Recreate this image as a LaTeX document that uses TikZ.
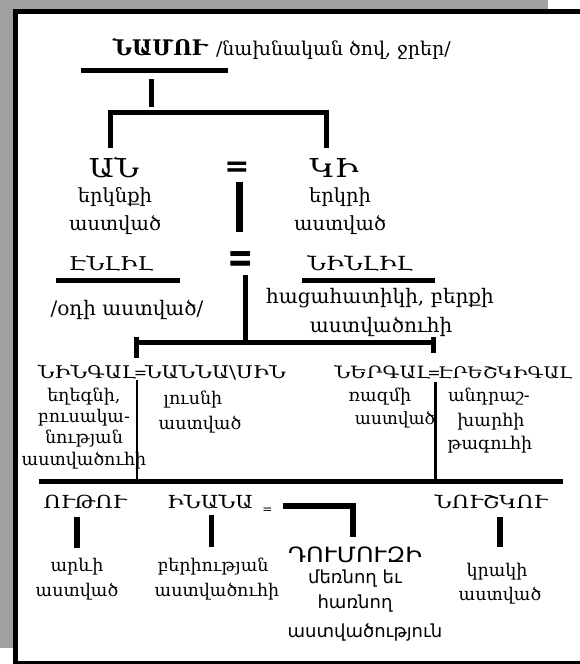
\documentclass[tikz,border=0pt]{standalone}
\usepackage{fontspec}
\setmainfont{DejaVu Serif}
\newfontfamily\armcaps[FakeStretch=1.2]{DejaVu Serif}
\newfontfamily\armsans{DejaVu Sans}
\newfontfamily\armsansw[FakeStretch=1.15]{DejaVu Sans}
\newcommand{\fs}[1]{\fontsize{#1}{#1}\selectfont}
\definecolor{shadowgray}{HTML}{A0A0A0}
\tikzset{
  lbl/.style={inner sep=0pt, outer sep=0pt, anchor=base},
  bar/.style={line width=5pt, line cap=butt, line join=miter},
  thinbar/.style={line width=2.6pt, line cap=butt},
  eqsign/.style={inner sep=0pt, outer sep=0pt, anchor=center},
}
\begin{document}
\begin{tikzpicture}[x=1pt,y=-1pt]
\useasboundingbox (0,0) rectangle (580,664);
\clip (0,0) rectangle (580,664);
% frame
\fill[shadowgray] (0,0) rectangle (548,648);
\draw[line width=5pt, fill=white] (15.5,11.5) rectangle (600,663.5);

% ---- level 1
\node[lbl, font=\fs{21.5}\bfseries] (nammu) at (160,55) {ՆԱՄՈՒ};
\node[lbl, anchor=base west, font=\fs{19}] (nammud) at (216,55) {/նախնական ծով, ջրեր/};
\coordinate (u1a) at (81,70.5); \coordinate (u1b) at (228,70.5);
\draw[bar] (u1a) -- (u1b);
\coordinate (v1a) at (151,79); \coordinate (v1b) at (151,107);
\draw[bar] (v1a) -- (v1b);
\coordinate (brL) at (110,148); \coordinate (brR) at (326,148);
\draw[bar] (brL) |- (326,112.5) -- (brR);

% ---- level 2
\node[lbl, font=\fs{26}\armcaps] (an) at (114,177) {ԱՆ};
\node[lbl, font=\fs{26}\armcaps] (ki) at (334,177) {ԿԻ};
\node[eqsign, font=\fs{30}\armsans\bfseries] (eq1) at (237,169) {=};
\node[lbl, font=\fs{19.5}] (an1) at (115,202) {երկնքի};
\node[lbl, font=\fs{19.5}] (an2) at (115,230) {աստված};
\node[lbl, font=\fs{19.5}] (ki1) at (340,202) {երկրի};
\node[lbl, font=\fs{19.5}] (ki2) at (340,230) {աստված};
\coordinate (v2a) at (239,182); \coordinate (v2b) at (239,232);
\draw[bar, line width=7pt] (v2a) -- (v2b);

% ---- level 3
\node[lbl, font=\fs{19}\armcaps] (enlil) at (111,270) {ԷՆԼԻԼ};
\node[lbl, font=\fs{19.5}\armcaps] (ninlil) at (360,270) {ՆԻՆԼԻԼ};
\node[eqsign, font=\fs{30}\armsans\bfseries] (eq2) at (241,262) {\scalebox{1.05}[1.45]{=}};
\coordinate (u2a) at (56,280.5); \coordinate (u2b) at (180,280.5);
\draw[bar] (u2a) -- (u2b);
\coordinate (u3a) at (302,280.5); \coordinate (u3b) at (435,280.5);
\draw[bar] (u3a) -- (u3b);
\node[lbl, font=\fs{20}] (enlild) at (127,315) {/օդի աստված/};
\node[lbl, font=\fs{20}] (ninlil1) at (380,303) {հացահատիկի, բերքի};
\node[lbl, font=\fs{20}] (ninlil2) at (381,332) {աստվածուհի};
\coordinate (v3a) at (245,275); \coordinate (hb) at (245,342.5);
\draw[bar] (v3a) -- (hb);
\coordinate (hL) at (134,342.5); \coordinate (hR) at (436,342.5);
\draw[bar] (hL) -- (hR);
\draw[bar] (136.5,337) -- (136.5,358);
\draw[bar] (433.5,337) -- (433.5,353);

% ---- level 4
\node[lbl, anchor=base east, font=\fs{17.5}\armcaps] (ningal) at (136,378) {ՆԻՆԳԱԼ};
\node[lbl, font=\fs{16}] (eq3) at (140.5,378) {=};
\node[lbl, anchor=base west, font=\fs{17.5}\armcaps] (nanna) at (145,378) {ՆԱՆՆԱ\textbackslash ՍԻՆ};
\node[lbl, anchor=base east, font=\fs{17}\armcaps] (nergal) at (430,378) {ՆԵՐԳԱԼ};
\node[lbl, font=\fs{16}] (eq4) at (434,378) {=};
\node[lbl, anchor=base west, font=\fs{16}\armcaps] (eresh) at (438,378) {ԷՐԵՇԿԻԳԱԼ};

\node[lbl, font=\fs{17.5}] (ng1) at (84,401) {եղեգնի,};
\node[lbl, font=\fs{17.5}] (ng2) at (84,422) {բուսակա-};
\node[lbl, font=\fs{17.5}] (ng3) at (84,443) {նության};
\node[lbl, font=\fs{17.5}] (ng4) at (84,465) {աստվածուհի};
\node[lbl, font=\fs{17.5}] (nn1) at (193,404) {լուսնի};
\node[lbl, font=\fs{17.5}] (nn2) at (200,429) {աստված};
\node[lbl, font=\fs{17.5}] (ne1) at (380,401) {ռազմի};
\node[lbl, font=\fs{17}] (ne2) at (395,424) {աստված};
\node[lbl, font=\fs{17.5}] (er1) at (489,401) {անդրաշ-};
\node[lbl, font=\fs{17.5}] (er2) at (491,426) {խարհի};
\node[lbl, font=\fs{17.5}] (er3) at (490,449) {թագուհի};

\coordinate (tL) at (137,380); \coordinate (tLb) at (137,481);
\draw[thinbar] (tL) -- (tLb);
\coordinate (tR) at (435,382); \coordinate (tRb) at (435,481);
\draw[thinbar, line width=3pt] (tR) -- (tRb);
\coordinate (bL) at (39,481); \coordinate (bR) at (563,481);
\draw[bar] (bL) -- (bR);

% ---- level 5
\node[lbl, font=\fs{18}\armcaps] (utu) at (85,508) {ՈՒԹՈՒ};
\node[lbl, font=\fs{18}\armcaps] (inanna) at (210,508) {ԻՆԱՆԱ};
\node[lbl, font=\fs{12}] (eq5) at (267.5,513) {=};
\node[lbl, font=\fs{18}\armcaps] (nushku) at (491,508) {ՆՈՒՇԿՈՒ};
\draw[bar, line width=6pt] (76.5,517) -- (76.5,548);
\draw[bar] (211,515) -- (211,547);
\draw[bar, line width=6pt] (500,517) -- (500,547);
\coordinate (dA) at (283,506); \coordinate (dB) at (352.5,537);
\draw[bar, line width=6pt] (dA) -| (dB);

\node[lbl, font=\fs{17.5}] (utu1) at (77,571) {արևի};
\node[lbl, font=\fs{17.5}] (utu2) at (77,596) {աստված};
\node[lbl, font=\fs{17.5}] (in1) at (213,571) {բերիության};
\node[lbl, font=\fs{17.5}] (in2) at (217,596) {աստվածուհի};
\node[lbl, font=\fs{21}\armsansw] (dum) at (355,562) {ԴՈՒՄՈՒԶԻ};
\node[lbl, font=\fs{18}\armsans] (dum1) at (355,583) {մեռնող եւ};
\node[lbl, font=\fs{18}\armsans] (dum2) at (355,608) {հառնող};
\node[lbl, font=\fs{18}\armsans] (dum3) at (365,637) {աստվածություն};
\node[lbl, font=\fs{17.5}] (nu1) at (497,576) {կրակի};
\node[lbl, font=\fs{17.5}] (nu2) at (500,600) {աստված};
\end{tikzpicture}
\end{document}
